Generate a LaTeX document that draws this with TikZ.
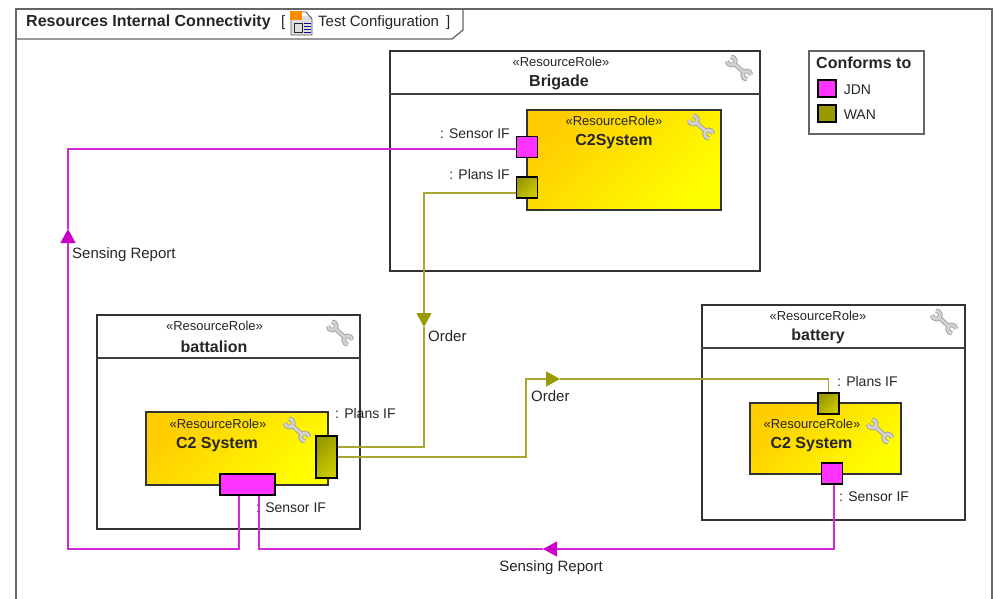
\documentclass[tikz,border=0pt]{standalone}
\usepackage{fontspec}
\setmainfont{Liberation Sans}
\usepackage{xcolor}
\usetikzlibrary{positioning,calc,arrows.meta}
\definecolor{jdnfill}{HTML}{FF33FF}
\definecolor{jdnline}{HTML}{D22AD2}
\definecolor{jdntip}{HTML}{CC00CC}
\definecolor{wanfill}{HTML}{999900}
\definecolor{wanlight}{HTML}{CCCC00}
\definecolor{wanline}{HTML}{A8A830}
\definecolor{goldfill}{HTML}{FFCC00}
\definecolor{inkline}{HTML}{404040}
\definecolor{inktext}{HTML}{262626}
\tikzset{
  wrench/.pic={
    \begin{scope}[rotate=-42]
      \foreach \w/\c in {4.4pt/gray!80, 2.8pt/gray!35}{
        \draw[line width=\w,\c] (-8,0) -- (8,0);
        \draw[line width=\w,\c] (13.5,3) arc (45:315:4.2);
        \draw[line width=\w,\c] (-13.5,-3) arc (225:495:4.2);
      }
    \end{scope}
  }
}
\begin{document}
\begin{tikzpicture}[x=1pt,y=-1pt,
  role/.style = {rectangle, draw=black!80, line width=1.1pt, fill=white, inner sep=0pt},
  c2box/.style = {rectangle, draw=black!80, line width=1.1pt, inner sep=0pt, left color=goldfill, right color=yellow, shading angle=45},
  jdnport/.style = {rectangle, draw=black, line width=1.1pt, fill=jdnfill, inner sep=0pt},
  wanport/.style = {rectangle, draw=black, line width=1.1pt, inner sep=0pt, left color=wanfill, right color=wanlight, shading angle=45},
  stereo/.style = {font=\fontsize{13}{15}\selectfont, text=inktext, inner sep=0pt, yshift=-.5pt},
  rolename/.style = {font=\fontsize{16}{18}\selectfont\bfseries, text=inktext, inner sep=0pt, yshift=-1.5pt},
  lbl/.style = {font=\fontsize{15}{17}\selectfont, text=inktext, inner sep=0pt, yshift=-1.5pt},
  portlbl/.style = {font=\fontsize{14}{16}\selectfont, text=inktext, inner sep=0pt, yshift=-1pt},
  jdnwire/.style = {draw=jdnline, line width=1.2pt},
  wanwire/.style = {draw=wanline, line width=1.2pt},
  jdnflow/.style = {jdnwire, -{Triangle[length=14pt,width=15pt,color=jdntip]}},
  wanflow/.style = {wanwire, -{Triangle[length=14pt,width=15pt,color=wanfill]}}]
\useasboundingbox (0,0) rectangle (996,599);
\fill[white] (0,0) rectangle (996,599);

% frame and tab
\coordinate (frameTL) at (16,9);
\coordinate (frameTR) at (992,9);
\coordinate (frameBL) at (16,599);
\coordinate (frameBR) at (992,599);
\coordinate (tabA) at (463,9);
\coordinate (tabB) at (463,30);
\coordinate (tabC) at (452,39);
\coordinate (tabD) at (16,39);
\draw[gray!80!black, line width=1.3pt] (frameBL) -- (frameTL) -- (frameTR) -- (frameBR);
\draw[gray!80!black, line width=1.3pt] (tabA) -- (tabB) -- (tabC) -- (tabD);
\node[rolename, anchor=west] (title) at (26,21) {Resources Internal Connectivity};
\node[lbl, anchor=west] (bracketL) at (281,21) {[};
\node[lbl, anchor=west] (config) at (318,21) {Test Configuration};
\node[lbl, anchor=west] (bracketR) at (446,21) {]};

% diagram icon
\fill[gray!25] (291,16) rectangle (312,35);
\draw[gray!70!black, line width=.9pt] (291,16) -- (291,35) -- (312,35) -- (312,19) -- (306,12) -- (302,12);
\fill[orange!90!yellow] (290,11) rectangle (302,20);
\draw[gray!30!black, line width=1pt] (294,24) rectangle (302,33);
\foreach \y in {24,27,30,33}
  \draw[blue!60!black, line width=1pt] (304,\y) -- (311,\y);

% legend
\node[role, draw=gray!80!black, minimum width=115pt, minimum height=83pt] (legend) at (866.5,92.5) {};
\node[rolename, anchor=west] (conforms) at (816,61.5) {Conforms to};
\node[jdnport, minimum width=18pt, minimum height=17pt] (legendJ) at (827,88.5) {};
\node[wanport, left color=wanfill, right color=wanfill, minimum width=18pt, minimum height=17pt] (legendW) at (827,113.5) {};
\node[portlbl, right=7pt of legendJ] (jdnText) {JDN};
\node[portlbl, right=7pt of legendW] (wanText) {WAN};

% Brigade
\node[role, minimum width=370pt, minimum height=220pt] (brigade) at (575,161) {};
\draw[inkline, line width=1.1pt] (brigade.west |- 0,94) -- (brigade.east |- 0,94);
\node[stereo] (brigadeS) at (561,61) {«ResourceRole»};
\node[rolename] (brigadeN) at (559,81) {Brigade};
\pic at (739,68) {wrench};
\node[c2box, minimum width=194pt, minimum height=100pt] (brigadeC) at (624,160) {};
\node[stereo] (brigadeCS) at (614,120) {«ResourceRole»};
\node[rolename] (brigadeCN) at (614,140) {C2System};
\pic at (701,127) {wrench};
\node[jdnport, minimum width=21pt, minimum height=21pt] (brigadeJ) at (527,147) {};
\node[wanport, minimum width=21pt, minimum height=21pt] (brigadeW) at (527,187.5) {};
\node[portlbl, anchor=east] (brigadeJL) at (510,133) {: Sensor IF};
\node[portlbl, anchor=east] (brigadeWL) at (510,173) {: Plans IF};

% battalion
\node[role, minimum width=263pt, minimum height=214pt] (battalion) at (228.5,422) {};
\draw[inkline, line width=1.1pt] (battalion.west |- 0,358) -- (battalion.east |- 0,358);
\node[stereo] (battalionS) at (214.5,325) {«ResourceRole»};
\node[rolename] (battalionN) at (214,345) {battalion};
\pic at (340,333) {wrench};
\node[c2box, minimum width=182pt, minimum height=73pt] (battalionC) at (237,448.5) {};
\node[stereo] (battalionCS) at (218,423) {«ResourceRole»};
\node[rolename] (battalionCN) at (217,443) {C2 System};
\pic at (297,430) {wrench};
\node[wanport, minimum width=21pt, minimum height=42pt] (battalionW) at (326.5,457) {};
\node[jdnport, minimum width=55pt, minimum height=21pt] (battalionJ) at (247.5,484.5) {};
\node[portlbl, anchor=west] (battalionWL) at (335,412) {: Plans IF};
\node[portlbl, anchor=west] (battalionJL) at (256,507) {: Sensor IF};

% battery
\node[role, minimum width=263pt, minimum height=215pt] (battery) at (833.5,412.5) {};
\draw[inkline, line width=1.1pt] (battery.west |- 0,348) -- (battery.east |- 0,348);
\node[stereo] (batteryS) at (818,315) {«ResourceRole»};
\node[rolename] (batteryN) at (818,335) {battery};
\pic at (944,322) {wrench};
\node[c2box, minimum width=151pt, minimum height=71pt] (batteryC) at (825.5,438.5) {};
\node[stereo] (batteryCS) at (812,423) {«ResourceRole»};
\node[rolename] (batteryCN) at (811.5,443) {C2 System};
\pic at (880,431) {wrench};
\node[wanport, minimum width=21pt, minimum height=21pt] (batteryW) at (828.5,403.5) {};
\node[jdnport, minimum width=21pt, minimum height=21pt] (batteryJ) at (832,473.5) {};
\node[portlbl, anchor=west] (batteryWL) at (837,380) {: Plans IF};
\node[portlbl, anchor=west] (batteryJL) at (839,496) {: Sensor IF};

% connector bends and arrow points
\coordinate (sense1Tip) at (68,229);
\coordinate (sense1Bend) at (68,549);
\coordinate (sense2Tip) at (543,549);
\coordinate (order1Tip) at (424,327);
\coordinate (order2Bend) at (526,379);
\coordinate (order2Tip) at (560,379);

\draw[jdnwire] (sense1Tip) |- ([yshift=-2pt]brigadeJ.west);
\draw[jdnflow] ([xshift=-8.5pt]battalionJ.south) |- (sense1Bend) -- (sense1Tip);
\draw[jdnwire] (sense2Tip) -| ([xshift=11.5pt]battalionJ.south);
\draw[jdnflow] ([xshift=2pt]batteryJ.south) |- (sense2Tip);
\draw[wanwire] (order1Tip) |- ([yshift=10pt]battalionW.east);
\draw[wanflow] ([yshift=-5.5pt]brigadeW.west) -| (order1Tip);
\draw[wanwire] (order2Tip) -| (batteryW.north);
\draw[wanflow] (battalionW.east) -| (order2Bend) -- (order2Tip);

% connector labels
\node[lbl, anchor=west] (sense1L) at (72,253) {Sensing Report};
\node[lbl] (sense2L) at (551,566) {Sensing Report};
\node[lbl, anchor=west] (order1L) at (428,335) {Order};
\node[lbl, anchor=west] (order2L) at (531,395) {Order};
\end{tikzpicture}
\end{document}
